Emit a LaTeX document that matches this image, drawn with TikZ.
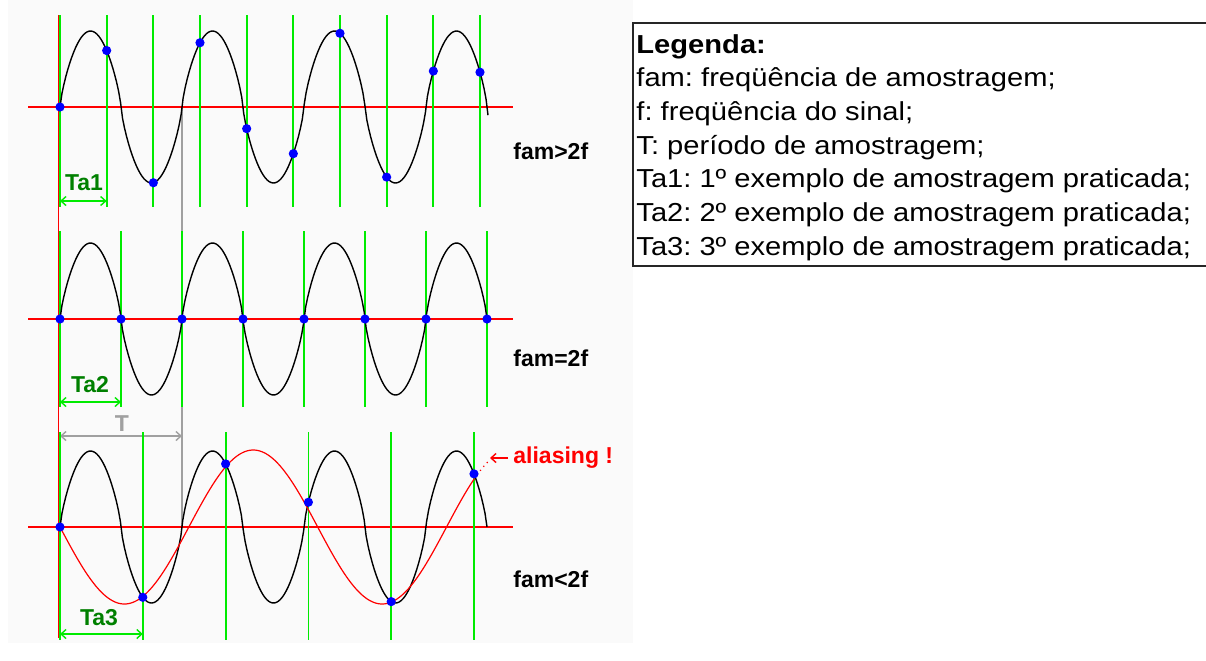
\documentclass[tikz,border=0pt]{standalone}
\usepackage{fontspec}
\setmainfont{Liberation Sans}
\usetikzlibrary{arrows.meta}
\frenchspacing

\definecolor{sigred}{RGB}{255,0,0}
\definecolor{samplegreen}{RGB}{0,235,0}
\definecolor{labelgreen}{RGB}{0,128,0}
\definecolor{dotblue}{RGB}{0,0,255}
\definecolor{periodgray}{RGB}{160,160,160}

\begin{document}
\begin{tikzpicture}[x=0.5pt, y=-0.5pt,
    declare function={A(\t)=abs(sin(\t))+0.00001; S(\t)=sign(sin(\t))*sqrt(A(\t))*sqrt(sqrt(A(\t)));
                      sig(\u)=S((\u-60)*(360/122)); ali(\u)=sin((\u-60)*(360/257.7));},
    axisline/.style={sigred, line width=0.8pt},
    sampleline/.style={samplegreen, line width=0.9pt},
    wave/.style={black, line width=0.7pt},
    aliaswave/.style={sigred, line width=0.6pt},
    sampledot/.style={circle, fill=dotblue, inner sep=0pt, minimum size=4.6pt},
    dimarrow/.style={line width=0.7pt, {Straight Barb[length=2.5pt,width=4.5pt]}-{Straight Barb[length=2.5pt,width=4.5pt]}},
    talabel/.style={text=labelgreen, font=\fontsize{11.5}{13}\selectfont\bfseries},
    famlabel/.style={anchor=west, inner sep=0pt, font=\fontsize{11.5}{13}\selectfont\bfseries},
    legline/.style={anchor=base west, inner sep=0pt, xscale=1.12, font=\fontsize{13}{15}\selectfont}
]
    \useasboundingbox (0,0) rectangle (1206,660);

    % plot area background
    \fill[black!2] (8,0) rectangle (633,643);

    % start line and period line
    \draw[sigred, line width=0.75pt] (58.5,15) -- (58.5,638);
    \draw[periodgray, line width=0.7pt] (182,107) -- (182,527);

    % Panel 1: fam > 2f
    \draw[axisline] (28,107) -- (513,107);
    \foreach \k in {0,...,9} {
        \draw[sampleline] ({60+\k*420/9},15) -- ({60+\k*420/9},207);
    }
    \draw[wave] plot[domain=60:488, samples=220] (\x, {107-76*sig(\x)});
    \foreach \k in {0,...,9} {
        \pgfmathsetmacro{\xs}{60+\k*420/9}
        \node[sampledot] (pa\k) at (\xs, {107-76*sig(\xs)}) {};
    }
    \node[famlabel] (fam1) at (513,151) {fam>2f};

    % Ta1
    \coordinate (ta1s) at (60,201);
    \coordinate (ta1e) at ({60+420/9},201);
    \draw[dimarrow, samplegreen] (ta1s) -- (ta1e);
    \node[talabel] (ta1) at (84,183) {Ta1};

    % Panel 2: fam = 2f
    \draw[axisline] (28,319) -- (513,319);
    \foreach \k in {0,...,7} {
        \draw[sampleline] ({60+\k*61},231) -- ({60+\k*61},407);
    }
    \draw[wave] plot[domain=60:487, samples=220] (\x, {319-76*sig(\x)});
    \foreach \k in {0,...,7} {
        \node[sampledot] (pb\k) at ({60+\k*61},319) {};
    }
    \node[famlabel] (fam2) at (513,358) {fam=2f};

    % Ta2
    \coordinate (ta2s) at (60,402);
    \coordinate (ta2e) at (121,402);
    \draw[dimarrow, samplegreen] (ta2s) -- (ta2e);
    \node[talabel] (ta2) at (90,385) {Ta2};

    % T
    \coordinate (ts) at (60,436);
    \coordinate (te) at (182,436);
    \draw[dimarrow, periodgray] (ts) -- (te);
    \node[text=periodgray, font=\fontsize{11.5}{13}\selectfont\bfseries] (tlab) at (122,424) {T};

    % Panel 3: fam < 2f
    \draw[axisline] (28,527) -- (513,527);
    \foreach \k in {0,...,5} {
        \draw[sampleline] ({60+\k*82.8},432) -- ({60+\k*82.8},640);
    }
    \draw[wave] plot[domain=60:487, samples=220] (\x, {527-76*sig(\x)});
    \draw[aliaswave] plot[domain=60:474, samples=200] (\x, {527+77*ali(\x)});
    \draw[aliaswave, dotted] plot[domain=474:489, samples=10] (\x, {527+77*ali(\x)});
    \foreach \k in {0,...,5} {
        \pgfmathsetmacro{\xs}{60+\k*82.8}
        \node[sampledot] (pc\k) at (\xs, {527-76*sig(\xs)}) {};
    }
    \node[famlabel] (fam3) at (513,579) {fam<2f};

    % Ta3
    \coordinate (ta3s) at (60,634);
    \coordinate (ta3e) at (142.8,634);
    \draw[dimarrow, samplegreen] (ta3s) -- (ta3e);
    \node[talabel] (ta3) at (99,618) {Ta3};

    % aliasing mark
    \node[famlabel, text=sigred] (alias) at (513,458) {aliasing !};
    \coordinate (altip) at (490,458);
    \draw[sigred, line width=0.7pt, -{Straight Barb[length=2.5pt,width=4.5pt]}] ([xshift=-2.5pt]alias.west) -- (altip);

    % Legend
    \fill[white] (633,23) rectangle (1206,266);
    \draw[black!85, line width=0.8pt] (1207,23) -- (633,23) -- (633,266) -- (1207,266);
    \node[legline, font=\fontsize{13}{15}\selectfont\bfseries] (leg0) at (636,53) {Legenda:};
    \node[legline] (leg1) at (636,86.7) {fam: freqüência de amostragem;};
    \node[legline] (leg2) at (636,120.4) {f: freqüência do sinal;};
    \node[legline] (leg3) at (636,154) {T: período de amostragem;};
    \node[legline] (leg4) at (636,187.8) {Ta1: 1º exemplo de amostragem praticada;};
    \node[legline] (leg5) at (636,221.5) {Ta2: 2º exemplo de amostragem praticada;};
    \node[legline] (leg6) at (636,255.2) {Ta3: 3º exemplo de amostragem praticada;};
\end{tikzpicture}
\end{document}
